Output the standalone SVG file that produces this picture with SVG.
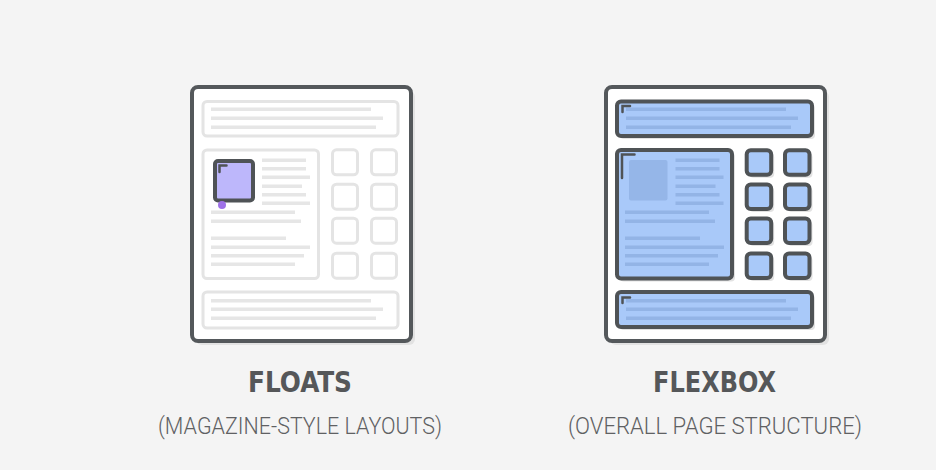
<svg xmlns="http://www.w3.org/2000/svg" width="936" height="470" viewBox="0 0 936 470">
  <style>
    .frame { fill: #ffffff; stroke: #54585b; stroke-width: 4; }
    .shadow { fill: #e2e2e2; }
    .ghost { fill: #ffffff; stroke: #e4e4e4; stroke-width: 3; }
    .ghost-line { fill: #e6e6e6; }
    .flex { fill: #a9c9f9; stroke: #4f5356; stroke-width: 4; }
    .flex-line { fill: #93b4e6; }
    .mark { fill: none; stroke: #4f5356; stroke-width: 2.5; stroke-linecap: round; }
    .title { font-family: "DejaVu Sans Condensed", "DejaVu Sans", sans-serif; font-weight: bold; font-size: 29px; fill: #555759; text-anchor: middle; }
    .sub { font-family: "Roboto", "Liberation Sans", sans-serif; font-weight: 300; font-size: 23px; fill: #5f6163; text-anchor: middle; }
  </style>

  <rect width="936" height="470" fill="#f4f4f4"/>

  <!-- Floats: magazine-style page -->
  <g id="floats-page">
    <rect class="shadow" x="196" y="91" width="219" height="254" rx="6"/>
    <rect class="frame" x="192" y="87" width="219" height="254" rx="6"/>

    <!-- header block -->
    <rect class="ghost" x="203" y="101.5" width="195" height="34.5" rx="4"/>
    <rect class="ghost-line" x="211" y="107.5" width="160" height="3.5"/>
    <rect class="ghost-line" x="211" y="116.5" width="172" height="3.5"/>
    <rect class="ghost-line" x="211" y="125.5" width="165" height="3.5"/>

    <!-- article block -->
    <rect class="ghost" x="203" y="150" width="115.5" height="128.5" rx="4"/>
    <rect class="ghost-line" x="262" y="158.5" width="44" height="3.5"/>
    <rect class="ghost-line" x="262" y="167" width="44" height="3.5"/>
    <rect class="ghost-line" x="262" y="175.5" width="48" height="3.5"/>
    <rect class="ghost-line" x="262" y="184.5" width="40" height="3.5"/>
    <rect class="ghost-line" x="262" y="193" width="44" height="3.5"/>
    <rect class="ghost-line" x="262" y="201.5" width="48" height="3.5"/>
    <rect class="ghost-line" x="211" y="210.5" width="84" height="3.5"/>
    <rect class="ghost-line" x="211" y="219.5" width="90" height="3.5"/>
    <rect class="ghost-line" x="211" y="236.5" width="75" height="3.5"/>
    <rect class="ghost-line" x="211" y="245.5" width="99" height="3.5"/>
    <rect class="ghost-line" x="211" y="254" width="93" height="3.5"/>
    <rect class="ghost-line" x="211" y="262.5" width="84" height="3.5"/>

    <!-- floated image -->
    <rect fill="#bdb7fb" stroke="#4f5356" stroke-width="4" x="215" y="161" width="38" height="39.5" rx="3"/>
    <path class="mark" d="M219.5 172 V165.5 H226.5"/>
    <circle cx="222" cy="205" r="4" fill="#9f72e8"/>

    <!-- sidebar tiles -->
    <rect class="ghost" x="332.5" y="149.8" width="25" height="25" rx="4"/>
    <rect class="ghost" x="371.5" y="149.8" width="25" height="25" rx="4"/>
    <rect class="ghost" x="332.5" y="184.2" width="25" height="25" rx="4"/>
    <rect class="ghost" x="371.5" y="184.2" width="25" height="25" rx="4"/>
    <rect class="ghost" x="332.5" y="218.2" width="25" height="25" rx="4"/>
    <rect class="ghost" x="371.5" y="218.2" width="25" height="25" rx="4"/>
    <rect class="ghost" x="332.5" y="253.2" width="25" height="25" rx="4"/>
    <rect class="ghost" x="371.5" y="253.2" width="25" height="25" rx="4"/>

    <!-- footer block -->
    <rect class="ghost" x="203" y="292" width="195" height="36" rx="4"/>
    <rect class="ghost-line" x="211" y="299" width="160" height="3.5"/>
    <rect class="ghost-line" x="211" y="307.5" width="172" height="3.5"/>
    <rect class="ghost-line" x="211" y="316.5" width="165" height="3.5"/>
  </g>

  <!-- Flexbox: overall page structure -->
  <g id="flexbox-page">
    <rect class="shadow" x="610" y="91" width="219" height="254" rx="6"/>
    <rect class="frame" x="606" y="87" width="219" height="254" rx="6"/>

    <!-- header block -->
    <rect class="shadow" x="620" y="104.5" width="195" height="34.5" rx="4"/>
    <rect class="flex" x="617" y="101.5" width="195" height="34.5" rx="4"/>
    <rect class="flex-line" x="626" y="107.5" width="160" height="3.5"/>
    <rect class="flex-line" x="626" y="116.5" width="172" height="3.5"/>
    <rect class="flex-line" x="626" y="125.5" width="165" height="3.5"/>
    <path class="mark" d="M622.5 112 V106 H630"/>

    <!-- article block -->
    <rect class="shadow" x="620" y="153" width="115" height="128.5" rx="4"/>
    <rect class="flex" x="617" y="150" width="115" height="128.5" rx="4"/>
    <rect fill="#95b6e8" x="629" y="160" width="38.5" height="40.5" rx="2"/>
    <rect class="flex-line" x="675.5" y="158.5" width="44" height="3.5"/>
    <rect class="flex-line" x="675.5" y="167" width="44" height="3.5"/>
    <rect class="flex-line" x="675.5" y="175.5" width="48" height="3.5"/>
    <rect class="flex-line" x="675.5" y="184.5" width="40" height="3.5"/>
    <rect class="flex-line" x="675.5" y="193" width="44" height="3.5"/>
    <rect class="flex-line" x="675.5" y="201.5" width="48" height="3.5"/>
    <rect class="flex-line" x="625" y="210.5" width="84" height="3.5"/>
    <rect class="flex-line" x="625" y="219.5" width="90" height="3.5"/>
    <rect class="flex-line" x="625" y="236.5" width="75" height="3.5"/>
    <rect class="flex-line" x="625" y="245.5" width="99" height="3.5"/>
    <rect class="flex-line" x="625" y="254" width="93" height="3.5"/>
    <rect class="flex-line" x="625" y="262.5" width="84" height="3.5"/>
    <path class="mark" d="M622 178 V154.5 H634.5"/>

    <!-- sidebar tiles -->
    <g>
      <rect class="shadow" x="749.7" y="153.3" width="24.5" height="24.5" rx="4"/>
      <rect class="shadow" x="788" y="153.3" width="24.5" height="24.5" rx="4"/>
      <rect class="shadow" x="749.7" y="187.5" width="24.5" height="24.5" rx="4"/>
      <rect class="shadow" x="788" y="187.5" width="24.5" height="24.5" rx="4"/>
      <rect class="shadow" x="749.7" y="221.5" width="24.5" height="24.5" rx="4"/>
      <rect class="shadow" x="788" y="221.5" width="24.5" height="24.5" rx="4"/>
      <rect class="shadow" x="749.7" y="256.5" width="24.5" height="24.5" rx="4"/>
      <rect class="shadow" x="788" y="256.5" width="24.5" height="24.5" rx="4"/>
      <rect class="flex" x="746.7" y="150.3" width="24.5" height="24.5" rx="4"/>
      <rect class="flex" x="785" y="150.3" width="24.5" height="24.5" rx="4"/>
      <rect class="flex" x="746.7" y="184.5" width="24.5" height="24.5" rx="4"/>
      <rect class="flex" x="785" y="184.5" width="24.5" height="24.5" rx="4"/>
      <rect class="flex" x="746.7" y="218.5" width="24.5" height="24.5" rx="4"/>
      <rect class="flex" x="785" y="218.5" width="24.5" height="24.5" rx="4"/>
      <rect class="flex" x="746.7" y="253.5" width="24.5" height="24.5" rx="4"/>
      <rect class="flex" x="785" y="253.5" width="24.5" height="24.5" rx="4"/>
    </g>

    <!-- footer block -->
    <rect class="shadow" x="620" y="295" width="195" height="35" rx="4"/>
    <rect class="flex" x="617" y="292" width="195" height="35" rx="4"/>
    <rect class="flex-line" x="626" y="299" width="160" height="3.5"/>
    <rect class="flex-line" x="626" y="307.5" width="172" height="3.5"/>
    <rect class="flex-line" x="626" y="316.5" width="165" height="3.5"/>
    <path class="mark" d="M622.5 303 V297.5 H630"/>
  </g>

  <!-- captions -->
  <g id="floats-caption">
    <text class="title" x="300" y="392" textLength="104" lengthAdjust="spacingAndGlyphs">FLOATS</text>
    <text class="sub" x="300" y="434" textLength="284" lengthAdjust="spacingAndGlyphs">(MAGAZINE-STYLE LAYOUTS)</text>
  </g>
  <g id="flexbox-caption">
    <text class="title" x="714.5" y="392" textLength="123" lengthAdjust="spacingAndGlyphs">FLEXBOX</text>
    <text class="sub" x="715" y="434" textLength="294" lengthAdjust="spacingAndGlyphs">(OVERALL PAGE STRUCTURE)</text>
  </g>
</svg>
